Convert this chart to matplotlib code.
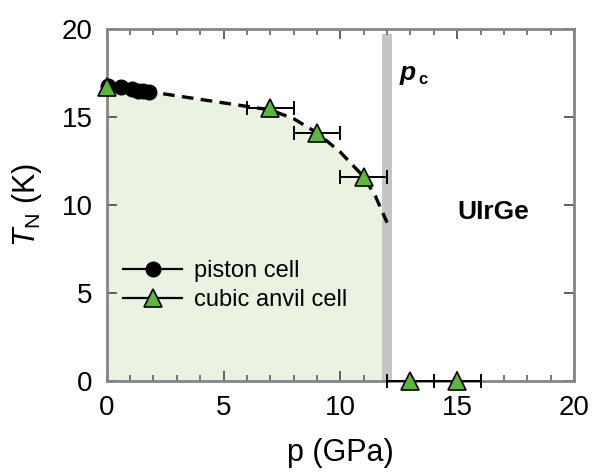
import numpy as np
import matplotlib
matplotlib.use("Agg")
import matplotlib.pyplot as plt
from matplotlib.ticker import MultipleLocator

plt.rcParams["font.family"] = ["Liberation Sans", "DejaVu Sans"]
plt.rcParams["mathtext.fontset"] = "custom"
plt.rcParams["mathtext.rm"] = "Liberation Sans"
plt.rcParams["mathtext.it"] = "Liberation Sans:italic"
plt.rcParams["mathtext.bf"] = "Liberation Sans:bold"

# piston cell data
piston_p = [0.05, 0.6, 1.1, 1.35, 1.55, 1.8]
piston_T = [16.75, 16.7, 16.6, 16.5, 16.45, 16.4]

# cubic anvil cell data
anvil_p = [0.0, 7.0, 9.0, 11.0, 13.0, 15.0]
anvil_T = [16.7, 15.5, 14.1, 11.6, 0.0, 0.0]
anvil_perr = [0.0, 1.0, 1.0, 1.0, 1.0, 1.0]

# guide line T_N(p)
guide_p = [0.0, 2.0, 4.0, 6.0, 7.0, 8.0, 9.0, 10.0, 11.0, 11.5, 12.0]
guide_T = [16.8, 16.4, 16.0, 15.6, 15.4, 14.9, 14.1, 13.0, 11.6, 10.5, 9.0]

p_c = 12.0

fig = plt.figure(figsize=(5.93, 4.74), dpi=100)
ax = fig.add_axes([0.180, 0.196, 0.788, 0.743])

ax.fill_between(guide_p, 0, guide_T, color="#eaf3e2", zorder=0, lw=0)
ax.axvspan(p_c - 0.2, p_c + 0.2, ymin=0, ymax=0.985, color="#c2c6c6", lw=0, zorder=1)

ax.plot(guide_p, guide_T, "--", color="black", lw=2.4, dashes=(3.5, 2.2), zorder=2)

ax.errorbar(anvil_p, anvil_T, xerr=anvil_perr, fmt="none", ecolor="black",
            elinewidth=1.4, capsize=5, capthick=1.4, zorder=3, clip_on=False)
ax.plot(piston_p, piston_T, "o", color="black", ms=10.5, zorder=4, clip_on=False)
ax.plot(anvil_p, anvil_T, "^", mfc="#5cb83a", mec="black", mew=1.2, ms=13.5,
        zorder=5, clip_on=False)

# legend handles with lines
h1, = ax.plot([], [], "-o", color="black", ms=10.5, lw=1.6)
h2, = ax.plot([], [], "-^", color="black", mfc="#5cb83a", mec="black",
              mew=1.2, ms=13.5, lw=1.6)
ax.legend([h1, h2], ["piston cell", "cubic anvil cell"], loc="upper left",
          bbox_to_anchor=(0.015, 0.37), frameon=False, fontsize=17,
          handlelength=2.5, handletextpad=0.5, labelspacing=0.3,
          borderaxespad=0.0)

ax.text(12.55, 17.1, "p", fontsize=19, fontweight="bold", style="italic")
ax.text(13.35, 16.9, "c", fontsize=12, fontweight="bold")
ax.text(15.0, 9.6, "UIrGe", fontsize=19, fontweight="bold", va="center")

ax.set_xlim(0, 20)
ax.set_ylim(0, 20)
ax.xaxis.set_major_locator(MultipleLocator(5))
ax.xaxis.set_minor_locator(MultipleLocator(1))
ax.yaxis.set_major_locator(MultipleLocator(5))

ax.tick_params(which="both", direction="in", top=True, right=True,
               color="#555555", labelsize=20)
ax.tick_params(axis="y", pad=10)
ax.tick_params(axis="x", pad=10)
ax.tick_params(which="major", length=7, width=1.3)
ax.tick_params(which="minor", length=4, width=1.1)
for s in ax.spines.values():
    s.set_color("#858585")
    s.set_linewidth(2.0)

ax.set_xlabel("p (GPa)", fontsize=22, labelpad=12)
ax.set_ylabel(r"$T_\mathrm{N}$ (K)", fontsize=22, labelpad=13)

fig.savefig("out.png", dpi=100)
